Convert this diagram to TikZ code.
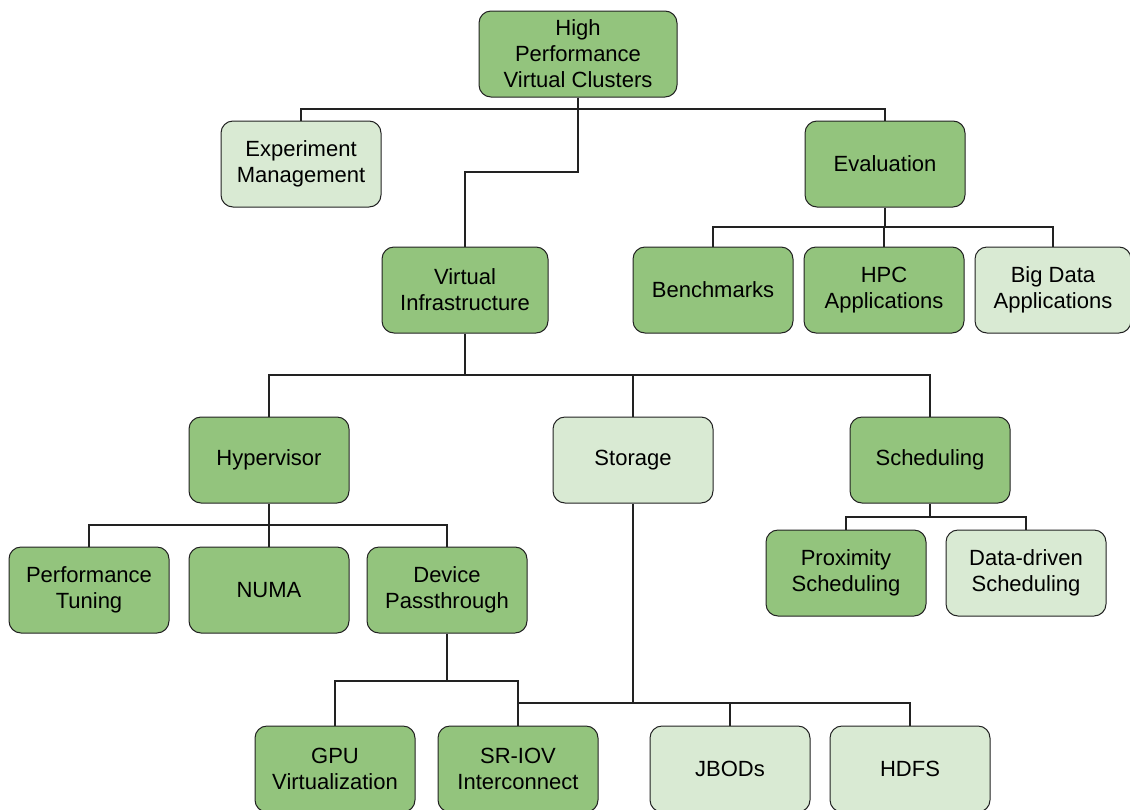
\documentclass[tikz,border=0pt]{standalone}
\usepackage{fontspec}
\setmainfont{Liberation Sans}
\definecolor{darkg}{HTML}{93C47D}
\definecolor{lightg}{HTML}{D9EAD3}
\definecolor{edgec}{HTML}{222222}
\tikzset{
  box/.style={draw=edgec, line width=1pt, rounded corners=12pt, minimum width=160pt, minimum height=86pt,
    align=center, inner sep=2pt, font=\fontsize{22}{26}\selectfont},
  dbox/.style={box, fill=darkg},
  lbox/.style={box, fill=lightg},
  conn/.style={draw=edgec, line width=1.2pt}
}
\begin{document}
\begin{tikzpicture}[x=1pt,y=-1pt]
\useasboundingbox (0,0) rectangle (1130,809);
% nodes
\node[dbox, minimum width=198pt] (root) at (578,54) {High\\Performance\\Virtual Clusters};
\node[lbox] (exp) at (301,164) {Experiment\\Management};
\node[dbox] (eval) at (885,164) {Evaluation};
\node[dbox, minimum width=166pt] (vi) at (465,290) {Virtual\\Infrastructure};
\node[dbox] (bench) at (713,290) {Benchmarks};
\node[dbox] (hpc) at (884,290) {HPC\\Applications};
\node[lbox, minimum width=156pt] (bigdata) at (1053,290) {Big Data\\Applications};
\node[dbox] (hyp) at (269,460) {Hypervisor};
\node[lbox] (stor) at (633,460) {Storage};
\node[dbox] (sched) at (930,460) {Scheduling};
\node[dbox] (perf) at (89,590) {Performance\\Tuning};
\node[dbox] (numa) at (269,590) {NUMA};
\node[dbox] (dev) at (447,590) {Device\\Passthrough};
\node[dbox] (prox) at (846,573) {Proximity\\Scheduling};
\node[lbox] (ddriven) at (1026,573) {Data-driven\\Scheduling};
\node[dbox] (gpu) at (335,769) {GPU\\Virtualization};
\node[dbox] (sriov) at (518,769) {SR-IOV\\Interconnect};
\node[lbox] (jbod) at (730,769) {JBODs};
\node[lbox] (hdfs) at (910,769) {HDFS};
% connectors
\draw[conn] (root.south) -- (root.south |- 0,109);
\draw[conn] (exp.north) -- (exp.north |- 0,109) -| (eval.north);
\draw[conn] (root.south) -- (root.south |- 0,172) -| (vi.north);
\draw[conn] (eval.south) -- (eval.south |- 0,227);
\draw[conn] (bench.north) -- (bench.north |- 0,227) -| (bigdata.north);
\draw[conn] (hpc.north) -- (hpc.north |- 0,227);
\draw[conn] (vi.south) -- (vi.south |- 0,375);
\draw[conn] (hyp.north) -- (hyp.north |- 0,375) -| (sched.north);
\draw[conn] (stor.north) -- (stor.north |- 0,375);
\draw[conn] (hyp.south) -- (hyp.south |- 0,525);
\draw[conn] (perf.north) -- (perf.north |- 0,525) -| (dev.north);
\draw[conn] (numa.north) -- (numa.north |- 0,525);
\draw[conn] (sched.south) -- (sched.south |- 0,517);
\draw[conn] (prox.north) -- (prox.north |- 0,517) -| (ddriven.north);
\draw[conn] (dev.south) -- (dev.south |- 0,681);
\draw[conn] (gpu.north) -- (gpu.north |- 0,681) -| (sriov.north);
\draw[conn] (stor.south) -- (stor.south |- 0,703);
\draw[conn] (sriov.north |- 0,703) -| (hdfs.north);
\draw[conn] (jbod.north) -- (jbod.north |- 0,703);
\end{tikzpicture}
\end{document}
